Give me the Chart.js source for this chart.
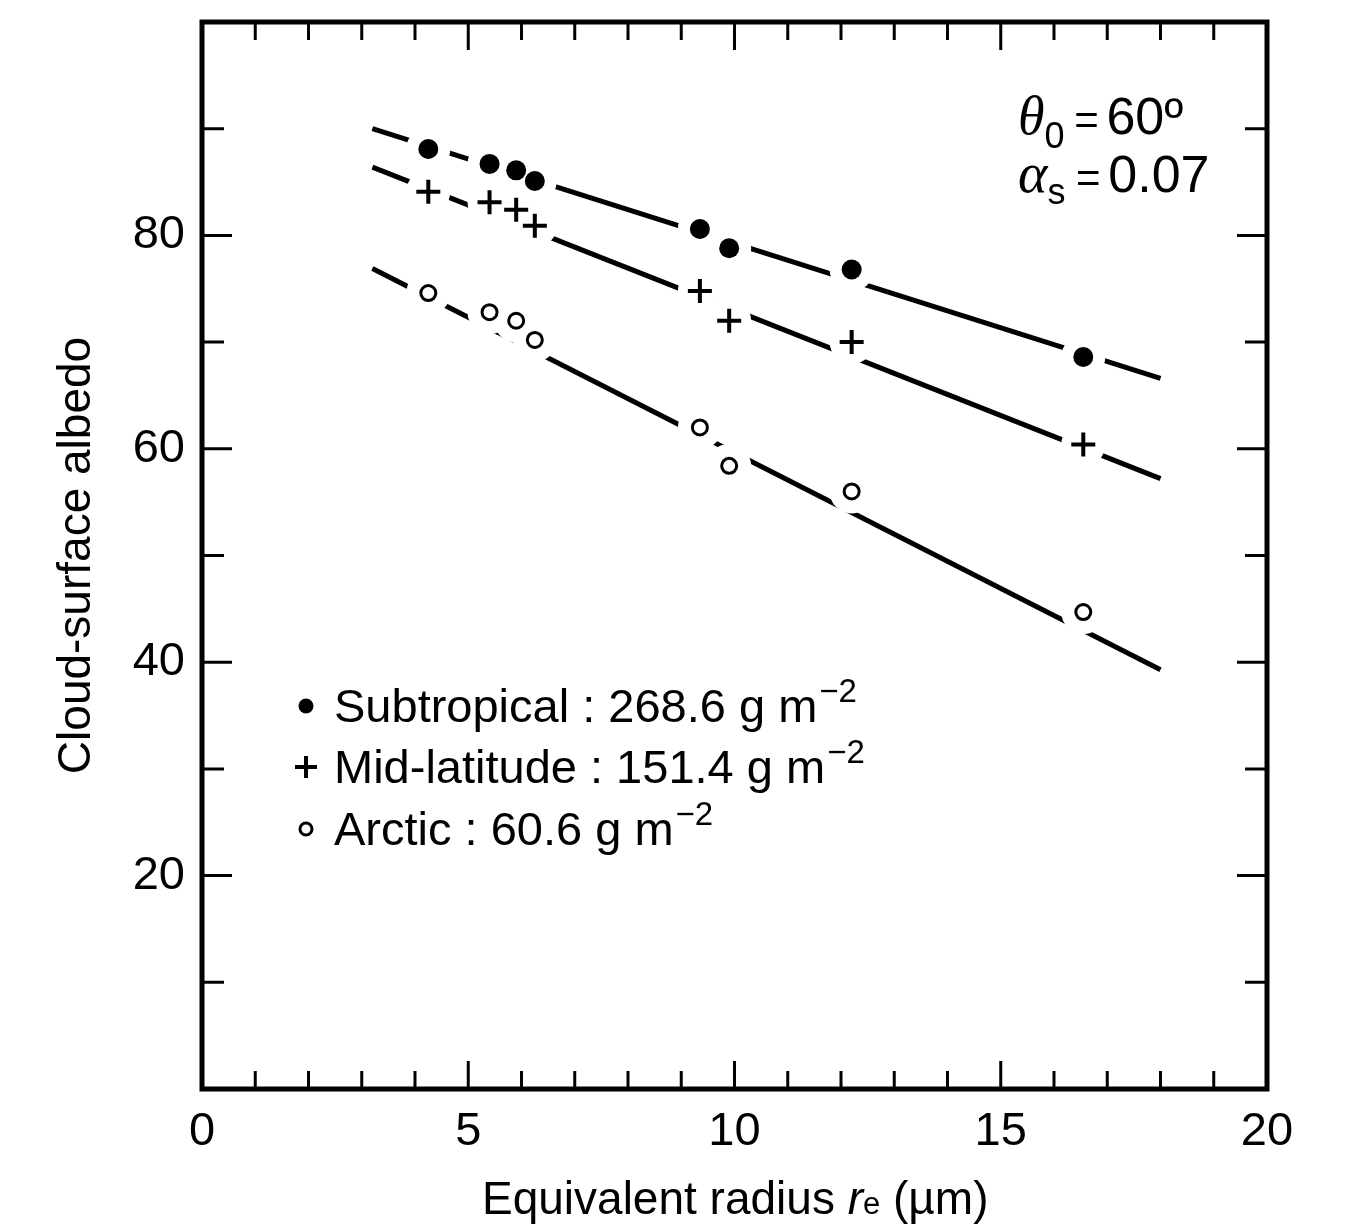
<!DOCTYPE html>
<html>
<head>
<meta charset="utf-8">
<script src="https://cdn.jsdelivr.net/npm/chart.js@4.4.1/dist/chart.umd.min.js"></script>
<style>
  body { margin: 0; background: #fff; }
  #wrap { width: 1351px; height: 1226px; position: relative; }
</style>
</head>
<body>
<div id="wrap"><canvas id="albedoChart"></canvas></div>
<script>
// values
const radius = [4.25, 5.4, 5.9, 6.25, 9.35, 9.9, 12.2, 16.55];
const subtropical = [88.1, 86.7, 86.1, 85.1, 80.6, 78.8, 76.8, 68.6];
const midLatitude = [84.1, 83.1, 82.4, 80.9, 74.8, 72.0, 70.0, 60.4];
const arctic = [74.6, 72.8, 72.0, 70.2, 62.0, 58.4, 56.0, 44.7];

// fitted lines
const fitRadius = [3.2, 18.0];
const subtropicalFit = [90.0, 66.6];
const midLatitudeFit = [86.4, 57.2];
const arcticFit = [76.9, 39.3];

const xTickLabels = [0, 5, 10, 15, 20];
const yTickLabels = [20, 40, 60, 80];
const legendNames = ['Subtropical : 268.6 g m', 'Mid-latitude : 151.4 g m', 'Arctic : 60.6 g m'];

const FONT = "'Liberation Sans', Arial, Helvetica, sans-serif";
const SERIF = "'Liberation Serif', 'Times New Roman', serif";

function toPoints(xs, ys) {
    return xs.map((x, i) => ({ x: x, y: ys[i] }));
}

// draw a row of text pieces with different fonts / offsets
function drawRuns(ctx, x, y, runs) {
    runs.forEach(r => {
        ctx.font = r.font;
        ctx.fillText(r.text, x + (r.dx || 0), y + (r.dy || 0));
        x += ctx.measureText(r.text).width + (r.dx || 0);
    });
}

const framePlugin = {
    id: 'frameTicks',
    afterDatasetsDraw(chart) {
        const ctx = chart.ctx;
        const area = chart.chartArea;
        const xs = chart.scales.x;
        const ys = chart.scales.y;
        ctx.save();
        ctx.strokeStyle = '#000';
        ctx.lineWidth = 3;
        xs.ticks.forEach(t => {
            if (t.value <= xs.min || t.value >= xs.max) return;
            const px = xs.getPixelForValue(t.value);
            const len = t.value % 5 === 0 ? 28 : 18;
            ctx.beginPath();
            ctx.moveTo(px, area.bottom); ctx.lineTo(px, area.bottom - len);
            ctx.moveTo(px, area.top); ctx.lineTo(px, area.top + len);
            ctx.stroke();
        });
        ys.ticks.forEach(t => {
            if (t.value <= ys.min || t.value >= ys.max) return;
            const py = ys.getPixelForValue(t.value);
            const len = t.value % 20 === 0 ? 30 : 22;
            ctx.beginPath();
            ctx.moveTo(area.left, py); ctx.lineTo(area.left + len, py);
            ctx.moveTo(area.right, py); ctx.lineTo(area.right - len, py);
            ctx.stroke();
        });
        ctx.lineWidth = 5;
        ctx.strokeRect(area.left, area.top, area.right - area.left, area.bottom - area.top);
        ctx.restore();
    }
};

const textPlugin = {
    id: 'figureText',
    afterDraw(chart) {
        const ctx = chart.ctx;
        ctx.save();
        ctx.fillStyle = '#000';
        ctx.strokeStyle = '#000';
        ctx.textAlign = 'left';
        ctx.textBaseline = 'alphabetic';

        // legend
        const baselines = [722, 783, 845];
        legendNames.forEach((name, i) => {
            const cy = baselines[i] - 16;
            ctx.beginPath();
            if (i === 0) {
                ctx.arc(306, cy, 7.5, 0, Math.PI * 2);
                ctx.fill();
            } else if (i === 1) {
                ctx.lineWidth = 4;
                ctx.moveTo(295, cy); ctx.lineTo(317, cy);
                ctx.moveTo(306, cy - 11); ctx.lineTo(306, cy + 11);
                ctx.stroke();
            } else {
                ctx.lineWidth = 3;
                ctx.arc(306, cy, 6, 0, Math.PI * 2);
                ctx.stroke();
            }
            drawRuns(ctx, 334, baselines[i], [
                { text: name, font: '47px ' + FONT },
                { text: '\u22122', font: '33px ' + FONT, dy: -20, dx: 2 }
            ]);
        });

        // parameters, top right
        drawRuns(ctx, 1018, 134, [
            { text: '\u03b8', font: 'italic 54px ' + SERIF },
            { text: '0', font: '36px ' + FONT, dy: 14 },
            { text: ' = ', font: '42px ' + FONT, dx: -2 },
            { text: '60\u00ba', font: '52px ' + FONT, dx: -4 }
        ]);
        drawRuns(ctx, 1018, 192, [
            { text: '\u03b1', font: 'italic 56px ' + SERIF },
            { text: 's', font: '36px ' + FONT, dy: 12 },
            { text: ' = ', font: '42px ' + FONT, dx: -1 },
            { text: '0.07', font: '52px ' + FONT, dx: -4 }
        ]);

        // x-axis title
        drawRuns(ctx, 482, 1214, [
            { text: 'Equivalent radius ', font: '46px ' + FONT },
            { text: 'r', font: 'italic 46px ' + FONT },
            { text: 'e', font: '31px ' + FONT },
            { text: ' (\u00b5m)', font: '46px ' + FONT }
        ]);
        ctx.restore();
    }
};

const ctx = document.getElementById('albedoChart').getContext('2d');

const chart = new Chart(ctx, {
    type: 'scatter',
    data: {
        datasets: [
            // fitted lines (bottom)
            { type: 'line', data: toPoints(fitRadius, subtropicalFit), borderColor: '#000', borderWidth: 5, pointRadius: 0, fill: false, order: 3 },
            { type: 'line', data: toPoints(fitRadius, midLatitudeFit), borderColor: '#000', borderWidth: 5, pointRadius: 0, fill: false, order: 3 },
            { type: 'line', data: toPoints(fitRadius, arcticFit), borderColor: '#000', borderWidth: 5, pointRadius: 0, fill: false, order: 3 },
            // white halos that break the lines at the markers
            { data: toPoints(radius, subtropical), pointRadius: 22, backgroundColor: '#fff', borderWidth: 0, order: 2 },
            { data: toPoints(radius, midLatitude), pointRadius: 22, backgroundColor: '#fff', borderWidth: 0, order: 2 },
            { data: toPoints(radius, arctic), pointRadius: 22, backgroundColor: '#fff', borderWidth: 0, order: 2 },
            // markers (top)
            { label: 'Subtropical', data: toPoints(radius, subtropical), pointStyle: 'circle', pointRadius: 10, backgroundColor: '#000', borderWidth: 0, order: 1 },
            { label: 'Mid-latitude', data: toPoints(radius, midLatitude), pointStyle: 'cross', pointRadius: 12, borderColor: '#000', borderWidth: 4, order: 1 },
            { label: 'Arctic', data: toPoints(radius, arctic), pointStyle: 'circle', pointRadius: 7.5, backgroundColor: '#fff', borderColor: '#000', borderWidth: 3, order: 1 }
        ]
    },
    options: {
        responsive: true,
        maintainAspectRatio: false,
        animation: false,
        events: [],
        layout: { padding: { left: 0, top: 20, right: 84, bottom: 0 } },
        plugins: {
            legend: { display: false },
            tooltip: { enabled: false }
        },
        scales: {
            x: {
                type: 'linear',
                min: 0,
                max: 20,
                grid: { display: false, drawTicks: false },
                border: { display: false },
                ticks: {
                    stepSize: 1,
                    autoSkip: false,
                    maxRotation: 0,
                    padding: 15,
                    color: '#000',
                    font: { size: 47, family: FONT },
                    callback: v => xTickLabels.includes(v) ? String(v) : ''
                },
                afterFit: s => { s.height = 137; s.paddingLeft = 0; s.paddingRight = 0; }
            },
            y: {
                type: 'linear',
                min: 0,
                max: 100,
                grid: { display: false, drawTicks: false },
                border: { display: false },
                ticks: {
                    stepSize: 10,
                    autoSkip: false,
                    padding: 17,
                    color: '#000',
                    font: { size: 47, family: FONT },
                    callback: v => yTickLabels.includes(v) ? String(v) : ''
                },
                title: {
                    display: true,
                    text: 'Cloud-surface albedo',
                    color: '#000',
                    font: { size: 46, family: FONT },
                    padding: { top: 50, bottom: 0 }
                },
                afterFit: s => { s.width = 202; s.paddingTop = 0; s.paddingBottom = 0; }
            }
        }
    },
    plugins: [framePlugin, textPlugin]
});
</script>
</body>
</html>
